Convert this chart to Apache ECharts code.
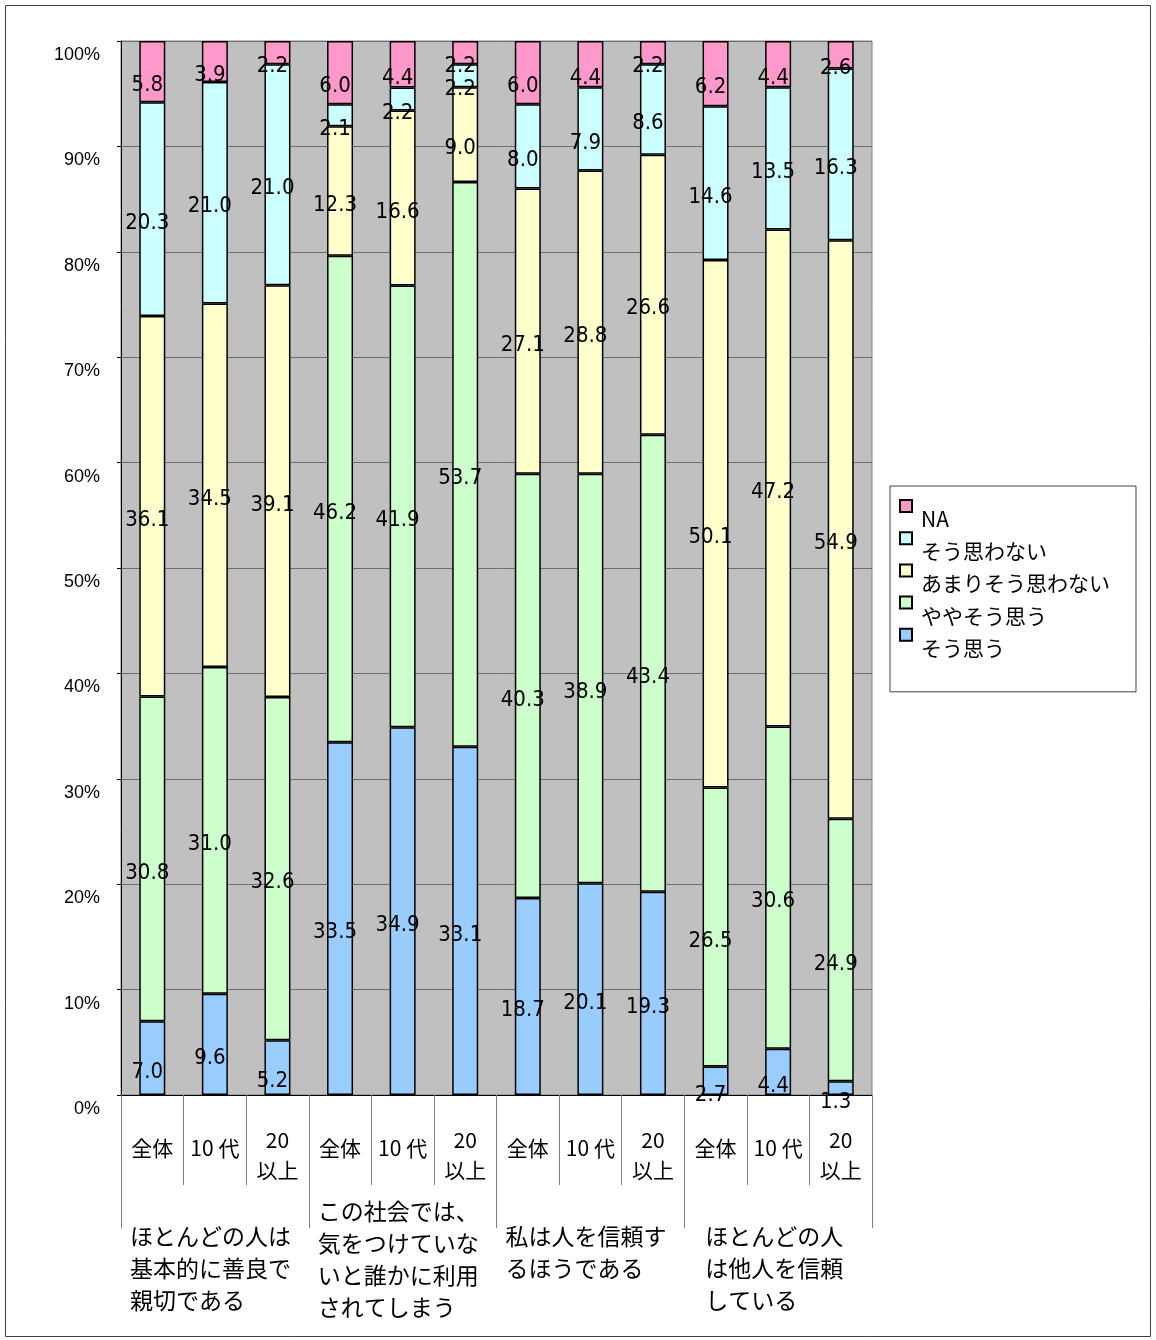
<!DOCTYPE html>
<html><head><meta charset="utf-8">
<script src="https://cdn.jsdelivr.net/npm/echarts@6/dist/echarts.min.js"></script>
<style>html,body{margin:0;padding:0;background:#fff}#c{width:1156px;height:1340px}</style>
</head><body><div id="c"></div>
<script>
// ---- data ----
const categories = ['全体','10 代','20\n以上','全体','10 代','20\n以上','全体','10 代','20\n以上','全体','10 代','20\n以上'];
const groups = ['ほとんどの人は\n基本的に善良で\n親切である',
                'この社会では、\n気をつけていな\nいと誰かに利用\nされてしまう',
                '私は人を信頼す\nるほうである',
                'ほとんどの人\nは他人を信頼\nしている'];
const seriesNames = ['そう思う','ややそう思う','あまりそう思わない','そう思わない','NA'];
const legendOrder = ['NA','そう思わない','あまりそう思わない','ややそう思う','そう思う'];
const soOmou   = [7.0, 9.6, 5.2, 33.5, 34.9, 33.1, 18.7, 20.1, 19.3, 2.7, 4.4, 1.3];
const yayaSoOmou = [30.8, 31.0, 32.6, 46.2, 41.9, 53.7, 40.3, 38.9, 43.4, 26.5, 30.6, 24.9];
const amari    = [36.1, 34.5, 39.1, 12.3, 16.6, 9.0, 27.1, 28.8, 26.6, 50.1, 47.2, 54.9];
const soOmowanai = [20.3, 21.0, 21.0, 2.1, 2.2, 2.2, 8.0, 7.9, 8.6, 14.6, 13.5, 16.3];
const na       = [5.8, 3.9, 2.2, 6.0, 4.4, 2.2, 6.0, 4.4, 2.2, 6.2, 4.4, 2.6];
const yTickValues = [0,10,20,30,40,50,60,70,80,90,100];
const colors = ['#99CCFF','#CCFFCC','#FFFFCC','#CCFFFF','#FF99CC'];

// ---- build ----
const raw = [soOmou, yayaSoOmou, amari, soOmowanai, na];
const totals = categories.map((_, i) => raw.reduce((s, a) => s + a[i], 0));
const numFont = "'Liberation Sans Narrow','DejaVu Sans Condensed','Liberation Sans',sans-serif";
const jpFont = "'Noto Sans CJK JP',sans-serif";

const series = raw.map((arr, k) => ({
  name: seriesNames[k],
  type: 'bar',
  stack: 'total',
  barWidth: 26,
  data: arr.map((v, i) => v / totals[i] * 100),
  itemStyle: { color: colors[k], borderColor: '#000', borderWidth: 1.5 },
  label: {
    show: true, position: 'inside', offset: [-5, 14],
    color: '#000', fontSize: 22, fontFamily: numFont,
    formatter: p => arr[p.dataIndex].toFixed(1)
  },
  emphasis: { disabled: true }
}));

const catData = categories.map(c => c.indexOf('\n') >= 0 ? c
  : { value: c, textStyle: { padding: [8,0,0,0], verticalAlign: 'top', fontSize: 21, lineHeight: 30, fontFamily: jpFont, color: '#000' } });
const grpData = groups.map((g, i) => i === 1 ? g : { value: g, textStyle: { padding: [25,0,0,0], verticalAlign: 'top' } });

const chart = echarts.init(document.getElementById('c'), null, { renderer: 'canvas' });
chart.setOption({
  animation: false,
  backgroundColor: '#fff',
  graphic: [{ type: 'rect', silent: true, shape: { x: 5.5, y: 5.5, width: 1145, height: 1331 },
              style: { fill: 'none', stroke: '#404040', lineWidth: 1 } }],
  grid: { left: 121, right: 284, top: 41, bottom: 245, show: true,
          backgroundColor: '#C0C0C0', borderColor: '#808080', borderWidth: 1 },
  legend: {
    data: legendOrder, orient: 'vertical', left: 890, top: 486,
    padding: [13, 26, 24, 9], backgroundColor: '#fff', borderColor: '#404040', borderWidth: 1,
    itemWidth: 16, itemHeight: 38, itemGap: -7.8,
    icon: 'path://M0,0L12,0L12,12L0,12ZM16,38',
    textStyle: { fontSize: 21, fontFamily: jpFont, color: '#000' },
    selectedMode: false
  },
  xAxis: [{
    type: 'category', data: catData, gridIndex: 0, position: 'bottom',
    axisLine: { show: true, lineStyle: { color: '#000', width: 1 } },
    axisTick: { show: true, interval: 0, length: 90, lineStyle: { color: '#808080' } },
    axisLabel: { interval: 0, margin: 30, verticalAlign: 'top', color: '#000',
                 fontSize: 21, lineHeight: 30, fontFamily: jpFont }
  }, {
    type: 'category', data: grpData, gridIndex: 0, position: 'bottom',
    axisLine: { show: false },
    axisTick: { show: true, interval: 0, length: 133, lineStyle: { color: '#808080' } },
    axisLabel: {
      interval: 0, margin: 100, verticalAlign: 'top', align: 'center', color: '#000',
      formatter: v => { const ls = v.split('\n'); const m = Math.max(...ls.map(l => l.length));
                        return ls.map(l => '{w' + m + '|' + l + '}').join('\n'); },
      rich: {
        w7: { width: 170, align: 'left', fontSize: 23, lineHeight: 32, fontFamily: jpFont, color: '#000' },
        w6: { width: 146, align: 'left', fontSize: 23, lineHeight: 32, fontFamily: jpFont, color: '#000' }
      }
    }
  }],
  yAxis: {
    type: 'value', min: 0, max: 100, interval: 10,
    axisLine: { show: true, lineStyle: { color: '#000' } },
    axisTick: { show: true, length: 4, lineStyle: { color: '#000' } },
    splitLine: { show: true, lineStyle: { color: '#6e6e6e', width: 1 } },
    axisLabel: { formatter: v => (yTickValues.indexOf(v) >= 0 ? v + '%' : ''), margin: 21,
                 fontSize: 18, fontFamily: "'Liberation Sans',Arial,sans-serif", color: '#000',
                 verticalAlign: 'top', lineHeight: 28 }
  },
  series: series
});
</script></body></html>
